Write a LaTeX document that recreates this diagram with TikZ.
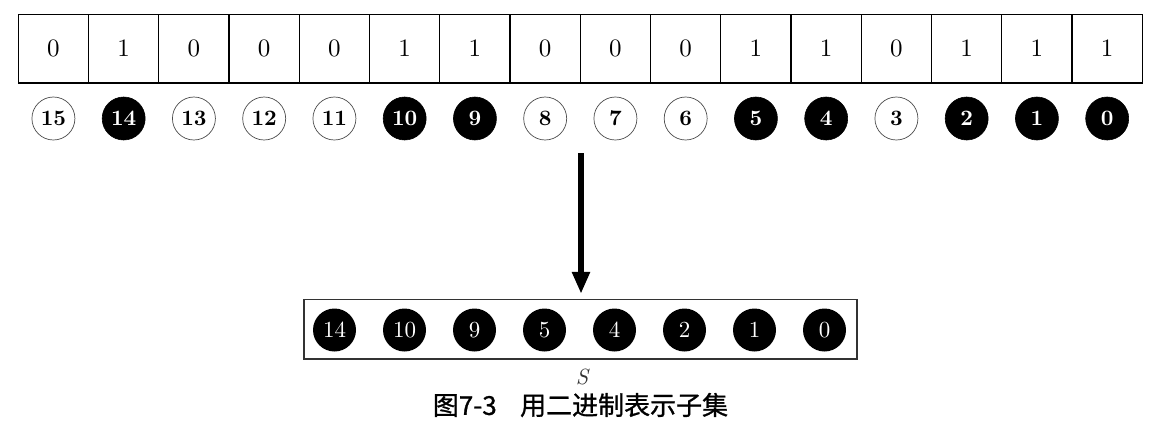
\documentclass[tikz,border=0pt]{standalone}
\usepackage{fontspec}
\setmainfont{lmroman10-regular.otf}[BoldFont=lmroman10-bold.otf,ItalicFont=lmroman10-italic.otf]
\newfontfamily\cjk[FakeBold=1]{Noto Sans CJK SC}
\usetikzlibrary{arrows.meta}
\begin{document}
\begin{tikzpicture}[x=1pt,y=-1pt,
  cellbox/.style={draw=black,line width=1.3pt,minimum width=70.25pt,minimum height=68.7pt,inner sep=0pt,font=\fontsize{25}{28}\selectfont,anchor=center},
  oncirc/.style={circle,fill=black,draw=black,line width=0.6pt,minimum size=43pt,inner sep=0pt,text=white,font=\fontsize{22}{26}\selectfont\bfseries},
  offcirc/.style={circle,fill=white,draw=black!70,line width=0.7pt,minimum size=43pt,inner sep=0pt,text=black,font=\fontsize{22}{26}\selectfont\bfseries},
  setcirc/.style={circle,fill=black,minimum size=43pt,inner sep=0pt,text=white,font=\fontsize{23}{26}\selectfont},
]
\useasboundingbox (0,0) rectangle (1173,440);
% top cells
\foreach \b [count=\i from 0] in {0,1,0,0,0,1,1,0,0,0,1,1,0,1,1,1} {
  \node[cellbox] (cell\i) at ({18.3+70.25*(\i+0.5)},48.65) {\b};
}
% index circles
\foreach \b [count=\i from 0] in {0,1,0,0,0,1,1,0,0,0,1,1,0,1,1,1} {
  \pgfmathtruncatemacro{\idx}{15-\i}
  \ifnum\b=1
    \node[oncirc] (c\idx) at ({18.3+70.25*(\i+0.5)},118.5) {\idx};
  \else
    \node[offcirc] (c\idx) at ({18.3+70.25*(\i+0.5)},118.5) {\idx};
  \fi
}
% subset box
\node[draw=black!80,line width=1.3pt,minimum width=553pt,minimum height=59.5pt,inner sep=0pt] (setbox) at (580.5,329.2) {};
\foreach \v [count=\i from 0] in {14,10,9,5,4,2,1,0} {
  \node[setcirc] (s\v) at ({334.5+70*\i},330) {\v};
}
% arrow
\coordinate (atop) at (581,153);
\draw[line width=5.5pt,-{Triangle[width=17pt,length=22pt]}] (atop) -- ([yshift=5pt]atop |- setbox.north);
\node[font=\fontsize{22}{24}\selectfont\itshape,text=black!80] (S) at (582,377) {S};
\node[font=\cjk\fontsize{26}{28}\selectfont] (cap) at (580.5,405) {图7-3\hspace{0.9em}用二进制表示子集};
\end{tikzpicture}
\end{document}
